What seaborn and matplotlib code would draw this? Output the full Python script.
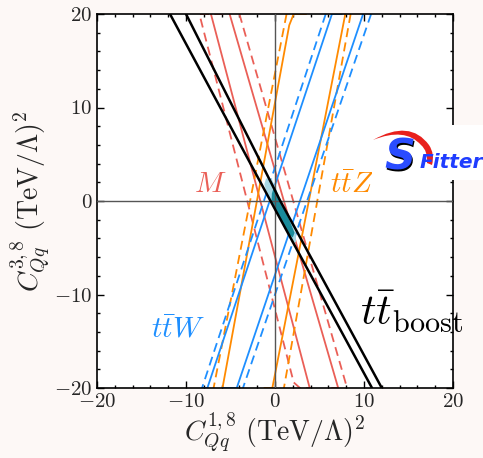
import numpy as np
import matplotlib
matplotlib.use("Agg")
import matplotlib.pyplot as plt
from matplotlib.path import Path
from matplotlib.patches import PathPatch, Rectangle
import seaborn as sns

# contour lines: (C18, C38) points per line
M_solid = [([-7.2, 3.9], [20, -20]),
           ([6.4, 7.1, -5.1], [-20, -20, 20])]
M_dashed = [([-5.8, -8.5, 2.1, 2.8, 3.9], [20, 20, -19.4, -20, -20]),
            ([-4.0, 8.1], [20, -20])]
ttZ_solid = [([3.5, 2.1, 1.6, -5.9], [20, 20, 18.8, -20]),
             ([7.9, -0.3, -1.2], [20, -20, -20])]
ttZ_dashed = [([1.3, -6.9], [20, -20]),
              ([8.5, 1.0], [20, -20])]
ttW_solid = [([7.5, 6.4, -7.6], [20, 20, -20]),
             ([9.9, -4.3, -5.9], [20, -20, -20])]
ttW_dashed = [([5.7, -8.2, -7.6], [20, -20, -20]),
              ([10.8, -3.6], [20, -20])]
boost_lines = [([-11.8, -0.5, 10.9], [20, 0, -20]),
               ([-10.0, 0.6, 12.0], [20, 0, -20])]

# combined fit regions
outer_x = [-1.0, -0.4, 0.0, 0.6, 1.7, 2.35, 2.35, 1.95, 1.55, 0.65, -0.5, -0.9, -1.2]
outer_y = [2.4, 2.4, 1.6, 0.1, -2.0, -3.5, -4.4, -4.5, -3.8, -2.1, -0.1, 0.8, 1.8]
inner_x = [-0.15, 0.1, 0.55, 1.6, 2.2, 2.0, 1.6, 0.72, -0.4, -0.35]
inner_y = [1.4, 1.2, 0.0, -2.0, -3.4, -3.9, -3.6, -2.0, 0.0, 0.8]

RED = '#ea5f57'
ORANGE = '#ff8a00'
BLUE = '#1e8fff'
DASH = (0, (5, 3))

sns.set_style("ticks")
plt.rcParams.update({
    'font.family': 'serif',
    'font.serif': ['cmr10'],
    'mathtext.fontset': 'cm',
    'axes.formatter.use_mathtext': True,
    'axes.unicode_minus': True,
})

fig = plt.figure(figsize=(4.83, 4.58), dpi=100)
fig.patch.set_facecolor('#fdf8f6')
ax = fig.add_axes([97 / 483, 1 - 388 / 458, 356 / 483, 374 / 458])
ax.set_facecolor('white')


def draw(lines, color, ls, lw, z):
    for xs, ys in lines:
        sns.lineplot(x=xs, y=ys, sort=False, estimator=None, color=color,
                     linestyle=ls, linewidth=lw, ax=ax, zorder=z)


draw(M_solid, RED, '-', 1.3, 2)
draw(M_dashed, RED, DASH, 1.3, 2)
draw(ttZ_solid, ORANGE, '-', 1.3, 2)
draw(ttZ_dashed, ORANGE, DASH, 1.3, 2)
draw(ttW_solid, BLUE, '-', 1.3, 2)
draw(ttW_dashed, BLUE, DASH, 1.3, 2)

ax.fill(outer_x, outer_y, color='#a8d9e6', zorder=3, lw=0)
ax.fill(inner_x, inner_y, color='#1a8b9b', zorder=4, lw=0)

ax.axhline(0, color='#555555', lw=1.0, zorder=5)
ax.axvline(0, color='#555555', lw=1.0, zorder=5)
draw(boost_lines, 'black', '-', 1.8, 6)

ax.set_xlim(-20, 20)
ax.set_ylim(-20, 20)
ax.set_xticks([-20, -10, 0, 10, 20])
ax.set_yticks([-20, -10, 0, 10, 20])
ax.set_xticks(np.arange(-20, 21, 2), minor=True)
ax.set_yticks(np.arange(-20, 21, 2), minor=True)
ax.tick_params(which='both', direction='in', top=True, right=True, labelsize=15, width=1, color='black')
ax.tick_params(which='major', length=5)
ax.tick_params(which='minor', length=2.5)
for s in ax.spines.values():
    s.set_linewidth(1.2)
    s.set_color('black')

ax.set_xlabel(r'$C_{Qq}^{1,8}\ (\mathrm{TeV}/\Lambda)^2$', fontsize=20, labelpad=0)
ax.set_ylabel(r'$C_{Qq}^{3,8}\ (\mathrm{TeV}/\Lambda)^2$', fontsize=20, labelpad=1)

ax.text(-7.3, 1.7, r'$M$', color=RED, fontsize=21, ha='center', va='center')
ax.text(8.65, 1.7, r'$t\bar{t}Z$', color=ORANGE, fontsize=21, ha='center', va='center')
ax.text(-10.9, -13.8, r'$t\bar{t}W$', color=BLUE, fontsize=21, ha='center', va='center')
ax.text(15.4, -11.9, r'$t\bar{t}_{\mathrm{boost}}$', color='black', fontsize=31,
        ha='center', va='center', zorder=7)

# Sfitter logo
lax = fig.add_axes([372 / 483, 1 - 180 / 458, 111 / 483, 55 / 458])
lax.set_xlim(0, 111)
lax.set_ylim(55, 0)
lax.axis('off')
lax.add_patch(Rectangle((0, 0), 111, 55, color='white', zorder=0))
verts = [(1, 15), (38, -6), (57, 20), (63, 29), (60, 40),
         (55, 38), (56, 26), (49, 20), (33, 2), (1, 15), (1, 15)]
codes = [Path.MOVETO, Path.CURVE3, Path.CURVE3, Path.CURVE3, Path.CURVE3,
         Path.LINETO, Path.CURVE3, Path.CURVE3, Path.CURVE3, Path.CURVE3, Path.CLOSEPOLY]
lax.add_patch(PathPatch(Path(verts, codes), color='#e8201c', lw=0, zorder=1))
lax.text(29, 34, 'S', family='DejaVu Sans', weight='bold', style='italic', fontsize=31,
         color='black', ha='center', va='center', zorder=2)
lax.text(28, 32, 'S', family='DejaVu Sans', weight='bold', style='italic', fontsize=31,
         color='#2a4cff', ha='center', va='center', zorder=3)
lax.text(79, 37, 'Fitter', family='DejaVu Sans', weight='bold', style='italic', fontsize=14.5,
         color='#1f3dff', ha='center', va='center', zorder=3)

fig.savefig('out.png', dpi=100, facecolor=fig.get_facecolor())
